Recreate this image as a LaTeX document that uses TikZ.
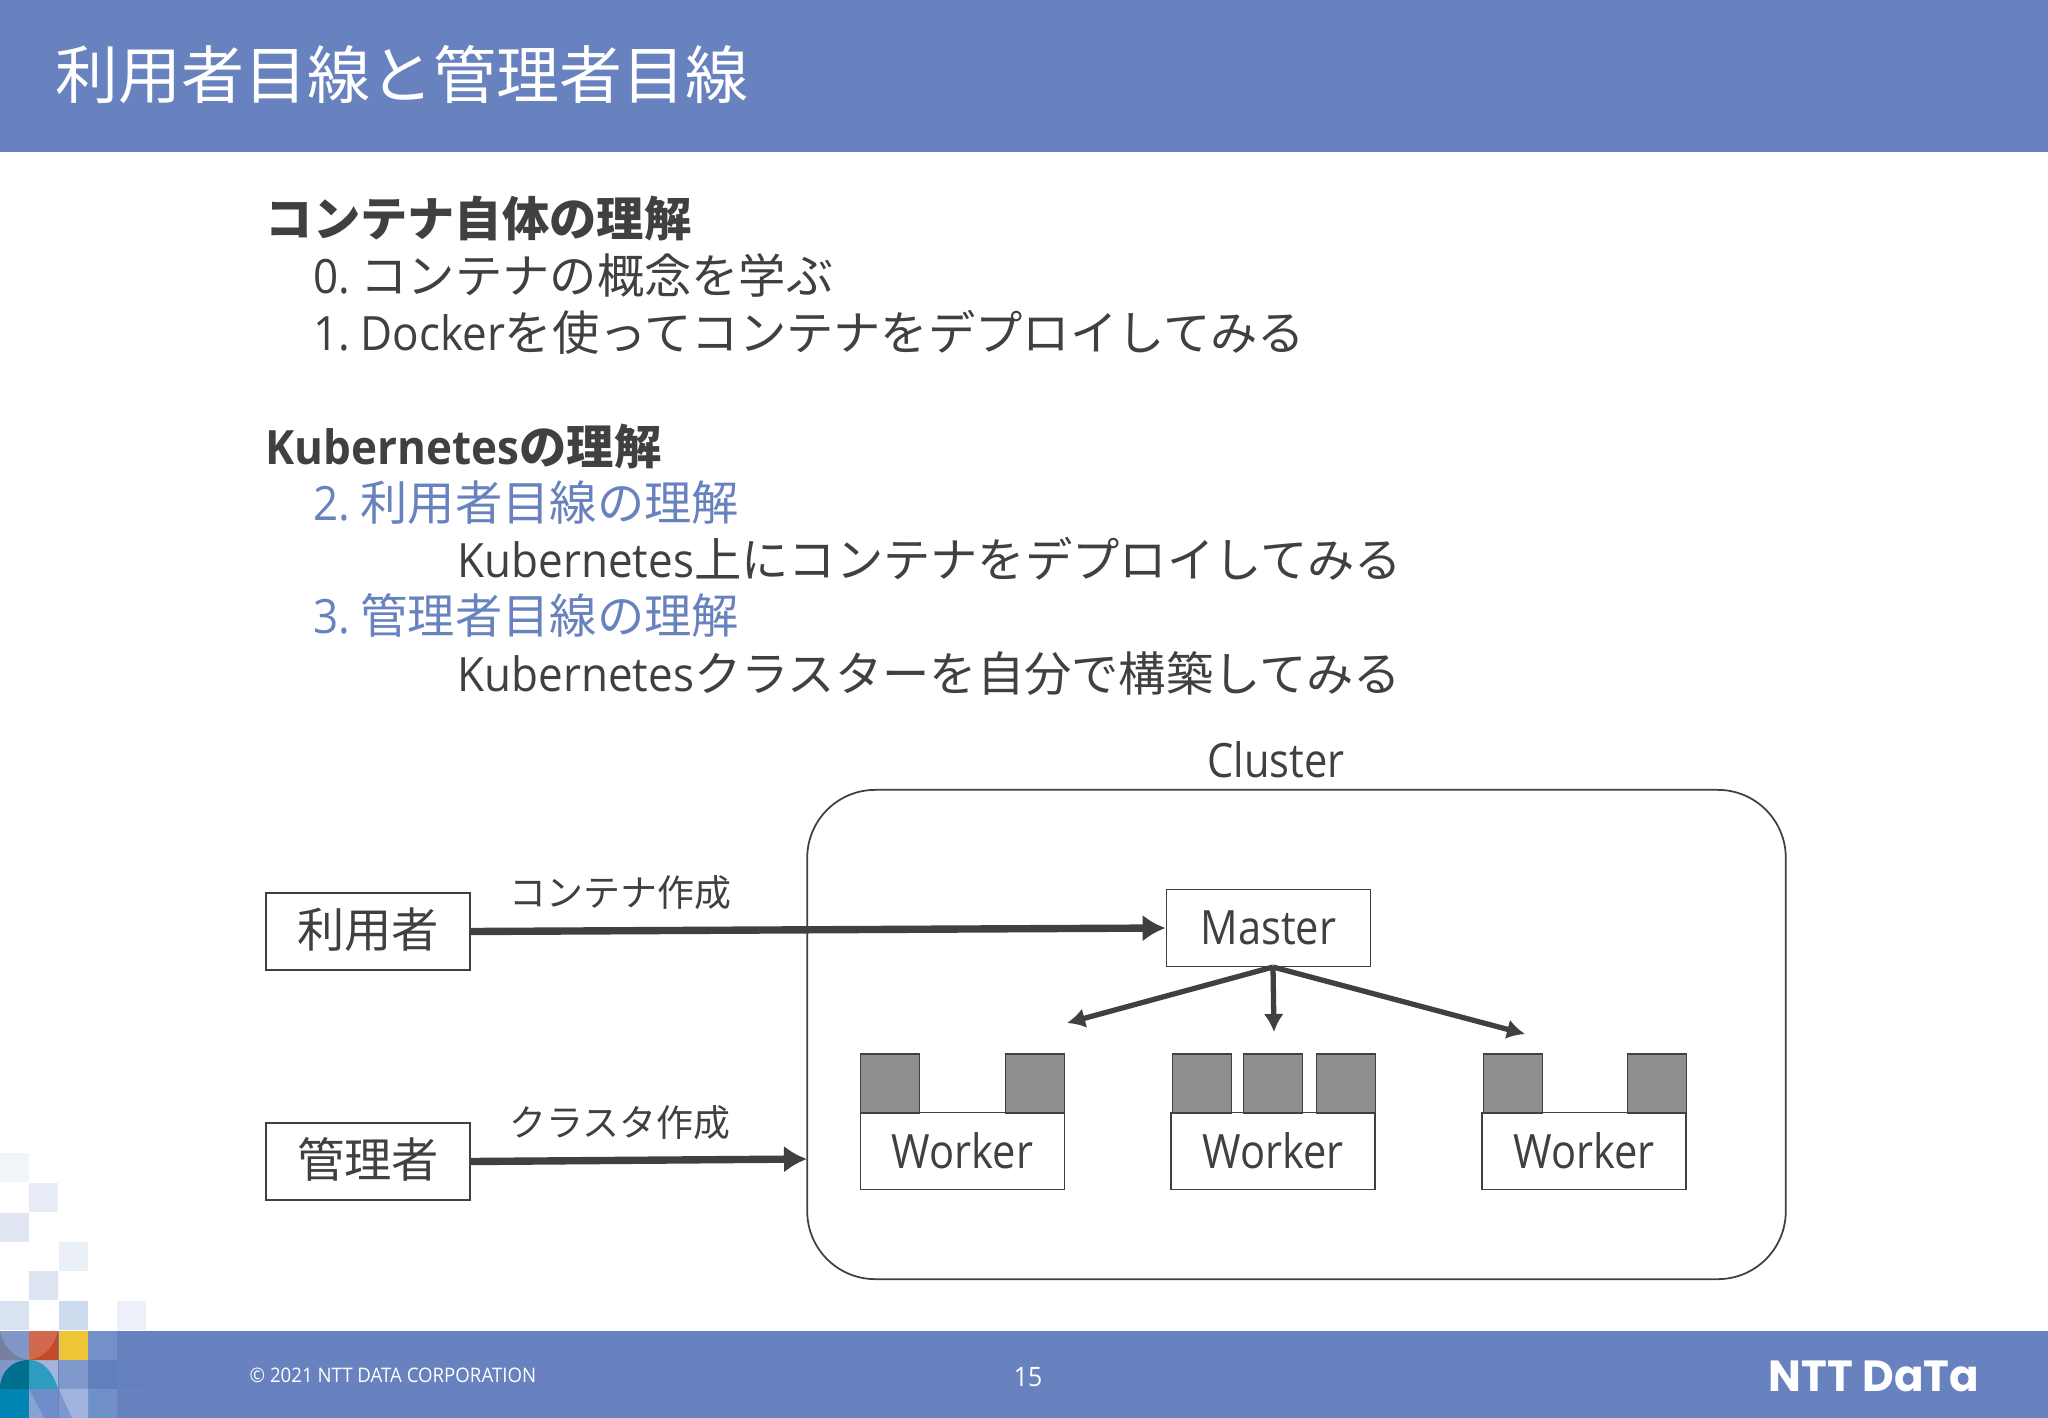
\documentclass[tikz,border=0pt]{standalone}
\usepackage{fontspec}
\usetikzlibrary{arrows.meta}
\setmainfont[FakeStretch=0.93]{Open Sans}
\newfontfamily\cjk{Noto Sans CJK JP}
\newfontfamily\logofont{Poppins}
\newfontfamily\labelfont[FakeStretch=0.88]{Open Sans}
\definecolor{bandblue}{HTML}{6882BF}
\definecolor{inkgray}{HTML}{404040}
\definecolor{slotgray}{HTML}{8E8D90}
\definecolor{domedark}{HTML}{00708F}
\definecolor{domelight}{HTML}{2E9CBF}
\definecolor{curvegray}{HTML}{76809F}
\definecolor{curvered}{HTML}{C24A28}
\definecolor{stripblue}{HTML}{8AA3D2}
\definecolor{stripwide}{HTML}{A0B3DC}
\newcommand{\bodysize}{\fontsize{13.45}{16}\selectfont}
\begin{document}
\begin{tikzpicture}[x=0.01cm,y=-0.01cm,
  every node/.style={text=inkgray,inner sep=0},
  textline/.style={anchor=base west,font=\bodysize},
  boxstyle/.style={draw=inkgray,line width=0.5pt,fill=white,minimum width=2.04cm,minimum height=0.77cm,font=\bodysize\labelfont},
  slotstyle/.style={draw=inkgray,line width=0.5pt,fill=slotgray,minimum width=0.59cm,minimum height=0.59cm},
  thickarrow/.style={draw=inkgray,line width=2.1pt,-{Latex[length=0.23cm,width=0.27cm]}},
  thinarrow/.style={draw=inkgray,line width=1.5pt,-{Latex[length=0.18cm,width=0.2cm]}}]
\useasboundingbox (0,0) rectangle (2048,1418);
\fill[bandblue] (0,0) rectangle (2048,152);
\fill[bandblue] (0,1331) rectangle (2048,1418);
\foreach \x/\y/\c in {0/1153/F2F5F8,29/1183/E8ECF7,0/1213/E0E6F2,59/1242/EBEFF8,29/1271/DCE4F2,
0/1301/D8E2F0,59/1301/CDDBEE,117/1301/EDF0F8,0/1331/8097C8,29/1331/D0684E,59/1331/EDC535,88/1331/7590C8,
0/1360/8097C8,29/1360/A3B5DC,59/1360/8099CC,88/1360/607FBD,117/1360/6480BE,0/1389/0085B5,29/1389/6F8CCB,59/1389/7C97D0,88/1389/7090C8}
{\definecolor{cellcolor}{HTML}{\c}
\fill[cellcolor] (\x,\y) rectangle ++(29.4,29.4);
}
\fill[curvegray] (0,1331) .. controls (5,1350) and (15,1358) .. (29,1360) -- (0,1360) -- cycle;
\fill[curvered] (29,1360) .. controls (45,1358) and (55,1345) .. (58,1331) -- (58,1360) -- cycle;
\fill[domedark] (0,1389) .. controls (0,1372) and (12,1360) .. (29,1360) -- (29,1389) -- cycle;
\fill[domelight] (29,1360) .. controls (45,1360) and (54,1375) .. (58,1389) -- (29,1389) -- cycle;
\fill[stripblue] (29,1389) -- (44,1418) -- (29,1418) -- cycle;
\fill[stripwide] (59,1389) -- (88,1389) -- (88,1418) -- (72,1418) -- cycle;
\node[anchor=base west,text=white,font=\fontsize{17.9}{20}\selectfont\cjk] (title) at (55,98) {利用者目線と管理者目線};
\node[textline,font=\bodysize\cjk\bfseries] (head1) at (265,236.5) {コンテナ自体の理解};
\node[textline] (step0) at (313,293.5) {0.\kern-1.5pt{} {\cjk コンテナの概念を学ぶ}};
\node[textline] (step1) at (313,350.5) {1.\kern-1.5pt{} Docker{\cjk を使ってコンテナをデプロイしてみる}};
\node[textline] (head2) at (265,464.5) {\bfseries Kubernetes{\cjk\bfseries の理解}};
\node[textline,text=bandblue] (step2) at (313,520.5) {2.\kern-1.5pt{} {\cjk 利用者目線の理解}};
\node[textline] (sub2) at (457,577.5) {Kubernetes{\cjk 上にコンテナをデプロイしてみる}};
\node[textline,text=bandblue] (step3) at (313,633.5) {3.\kern-1.5pt{} {\cjk 管理者目線の理解}};
\node[textline] (sub3) at (457,691.5) {Kubernetes{\cjk クラスターを自分で構築してみる}};
\node[draw=inkgray,line width=0.5pt,rounded corners=0.68cm,minimum width=9.78cm,minimum height=4.89cm] (cluster) at (1296.5,1034.5) {};
\node[font=\bodysize\labelfont,anchor=base] (clusterlabel) at (1276,777) {Cluster};
\node[boxstyle,font=\bodysize\cjk] (user) at (368,931.5) {\raisebox{2.3pt}{利用者}};
\node[boxstyle,font=\bodysize\cjk] (admin) at (368,1161.5) {\raisebox{2.3pt}{管理者}};
\node[boxstyle] (master) at (1268.5,928) {\raisebox{-0.6pt}{Master}};
\foreach \x in {962.5,1273,1584}
\node[boxstyle] (worker\x) at (\x,1151) {Worker};
\foreach \x/\n in {890/1,1035/2,1202/3,1273/4,1346/5,1513/6,1657/7}
\node[slotstyle] (slot\n) at (\x,1083.5) {};
\node[anchor=base west,font=\fontsize{10.5}{12}\selectfont\cjk] (makepod) at (509,906.5) {コンテナ作成};
\node[anchor=base west,font=\fontsize{10.5}{12}\selectfont\cjk] (makecluster) at (509,1136.5) {クラスタ作成};
\coordinate (masterout) at (1273,967);
\coordinate (clusterin) at (807,1159);
\coordinate (toa) at (1067,1023);
\coordinate (tob) at (1274,1032);
\coordinate (toc) at (1525,1034);
\draw[thickarrow] (user.east) -- (master.west);
\draw[thickarrow] (admin.east) -- (clusterin);
\draw[thinarrow] (masterout) -- (toa);
\draw[thinarrow] (masterout) -- (tob);
\draw[thinarrow] (masterout) -- (toc);
\node[text=white,anchor=west,font=\fontsize{5.7}{6}\selectfont] (copyright) at (249,1375) {© 2021 NTT DATA CORPORATION};
\node[text=white,font=\fontsize{7.6}{9}\selectfont] (pageno) at (1028,1377) {15};
\node[text=white,font=\fontsize{12.4}{14}\selectfont\logofont\bfseries] (logo) at (1874,1376) {NTT DaTa};
\end{tikzpicture}
\end{document}
